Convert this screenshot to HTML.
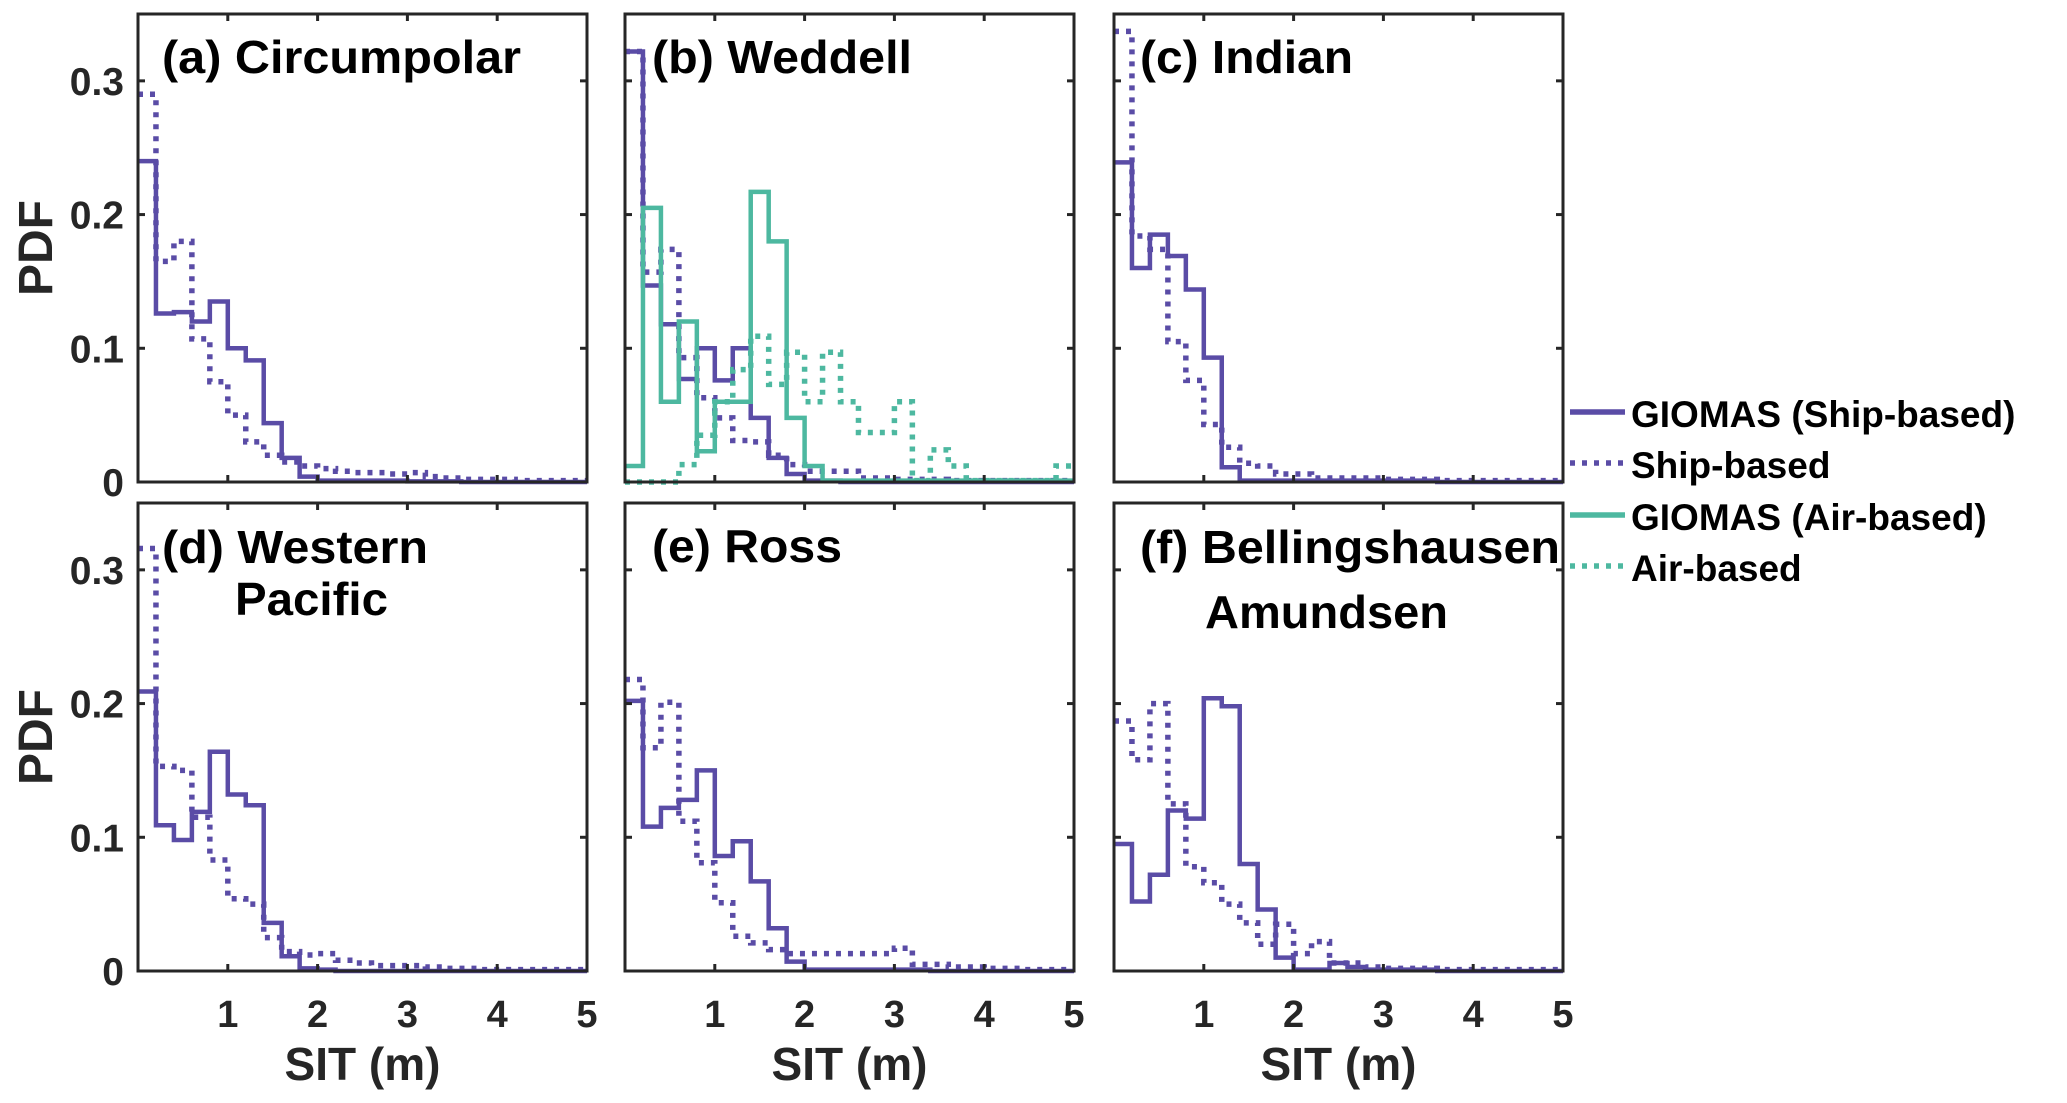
<!DOCTYPE html>
<html><head><meta charset="utf-8"><style>
html,body{margin:0;padding:0;background:#fff;}
svg{display:block;font-family:"Liberation Sans",Arial,sans-serif;font-weight:bold;}
</style></head><body>
<svg id="chart" width="2067" height="1103" viewBox="0 0 2067 1103" xmlns="http://www.w3.org/2000/svg"></svg>
<script>
const binEdges = [0,0.2,0.4,0.6,0.8,1.0,1.2,1.4,1.6,1.8,2.0,2.2,2.4,2.6,2.8,3.0,3.2,3.4,3.6,3.8,4.0,4.2,4.4,4.6,4.8,5.0];
const xTicks = [1,2,3,4,5];
const yTicks = [0,0.1,0.2,0.3];
const yTickLabels = ["0","0.1","0.2","0.3"];
const panelTitles = [["(a) Circumpolar"],["(b) Weddell"],["(c) Indian"],["(d) Western","Pacific"],["(e) Ross"],["(f) Bellingshausen","Amundsen"]];
const aShipModel = [0.24,0.126,0.127,0.12,0.135,0.10,0.091,0.044,0.018,0.004,0.001,0.001,0.001,0.001,0.001,0.0005,0.0005,0.0005,0,0,0,0,0,0,0];
const aShipObs = [0.29,0.165,0.18,0.107,0.075,0.05,0.03,0.02,0.015,0.012,0.01,0.008,0.007,0.007,0.006,0.007,0.004,0.003,0.002,0.002,0.002,0.001,0.001,0.001,0.001];
const bShipModel = [0.322,0.147,0.118,0.077,0.1,0.076,0.1,0.048,0.018,0.006,0.001,0.001,0,0,0,0,0,0,0,0,0,0,0,0,0];
const bShipObs = [0.322,0.157,0.174,0.093,0.063,0.048,0.031,0.03,0.02,0.013,0.008,0.008,0.008,0.003,0.003,0.002,0.002,0.002,0.001,0.001,0.001,0.001,0.001,0.001,0.001];
const bAirModel = [0.012,0.205,0.06,0.12,0.023,0.06,0.06,0.217,0.18,0.048,0.012,0.001,0.001,0.001,0.001,0.001,0.001,0.001,0.001,0.001,0.001,0.001,0.001,0.001,0.001];
const bAirObs = [0,0,0,0.013,0.035,0.06,0.084,0.109,0.073,0.097,0.06,0.097,0.06,0.037,0.037,0.06,0.001,0.024,0.012,0.001,0.001,0.001,0.001,0.001,0.012];
const cShipModel = [0.239,0.16,0.185,0.169,0.144,0.093,0.011,0.001,0.001,0.001,0.001,0.001,0.001,0.001,0.001,0.001,0.001,0.001,0,0,0,0,0,0,0];
const cShipObs = [0.337,0.184,0.174,0.105,0.076,0.043,0.026,0.014,0.012,0.006,0.006,0.003,0.003,0.003,0.003,0.002,0.002,0.002,0.001,0.001,0.001,0.001,0.001,0.001,0.001];
const dShipModel = [0.209,0.109,0.098,0.119,0.164,0.132,0.124,0.036,0.011,0.002,0.001,0,0,0,0,0,0,0,0,0,0,0,0,0,0];
const dShipObs = [0.316,0.153,0.15,0.115,0.083,0.054,0.05,0.025,0.0145,0.012,0.013,0.008,0.006,0.004,0.004,0.004,0.003,0.002,0.002,0.001,0.001,0.001,0.001,0.001,0.001];
const eShipModel = [0.202,0.108,0.122,0.128,0.15,0.086,0.097,0.067,0.032,0.007,0.001,0.001,0.001,0.001,0.001,0.001,0.001,0,0,0,0,0,0,0,0];
const eShipObs = [0.218,0.167,0.201,0.112,0.081,0.051,0.026,0.021,0.016,0.013,0.013,0.013,0.013,0.013,0.013,0.017,0.005,0.005,0.003,0.003,0.002,0.002,0.001,0.001,0.001];
const fShipModel = [0.095,0.052,0.072,0.12,0.114,0.204,0.198,0.08,0.046,0.01,0.001,0.001,0.006,0.003,0.001,0.001,0.001,0.001,0,0,0,0,0,0,0];
const fShipObs = [0.187,0.158,0.2,0.125,0.078,0.066,0.05,0.036,0.02,0.035,0.013,0.022,0.006,0.006,0.003,0.002,0.002,0.002,0.001,0.001,0.001,0.001,0.001,0.001,0.001];

const PURPLE="#5a4ca6", TEAL="#4db8a0", AX="#262626";
const NS="http://www.w3.org/2000/svg";
const svg=document.getElementById('chart');
function mk(tag,attrs,parent){const e=document.createElementNS(NS,tag);for(const k in attrs)e.setAttribute(k,attrs[k]);(parent||svg).appendChild(e);return e;}

const colsX=[138,625,1114], rowsY=[14,503], PW=449, PH=468, YMAX=0.35, XMAX=5;
const panels=[
 {id:'a',series:[[aShipModel,PURPLE,false],[aShipObs,PURPLE,true]]},
 {id:'b',series:[[bShipModel,PURPLE,false],[bShipObs,PURPLE,true],[bAirModel,TEAL,false],[bAirObs,TEAL,true]]},
 {id:'c',series:[[cShipModel,PURPLE,false],[cShipObs,PURPLE,true]]},
 {id:'d',series:[[dShipModel,PURPLE,false],[dShipObs,PURPLE,true]]},
 {id:'e',series:[[eShipModel,PURPLE,false],[eShipObs,PURPLE,true]]},
 {id:'f',series:[[fShipModel,PURPLE,false],[fShipObs,PURPLE,true]]}
];
const titlePos=[[162,73,359],[652,73,260],[1140,73,213],[162,563,266,235,615,153],[652,562,190],[1140,563,420,1205,628,243]];

panels.forEach((p,i)=>{
  const col=i%3,row=Math.floor(i/3);
  const L=colsX[col],T=rowsY[row],B=T+PH,R=L+PW;
  const xs=v=>L+v/XMAX*PW, ys=v=>B-v/YMAX*PH;
  const g=mk('g',{});
  
  
  const names=['ship-model-series','ship-obs-series','air-model-series','air-obs-series'];
  p.series.forEach((s,si)=>{
    const vals=s[0];let d='M'+xs(binEdges[0])+' '+ys(vals[0]);
    for(let k=0;k<vals.length;k++){ if(k>0)d+=' V'+ys(vals[k]); d+=' H'+xs(binEdges[k+1]); }
    const path=mk('path',{d:d,fill:'none',stroke:s[1],'stroke-width':s[2]?5.5:4.5,'stroke-dasharray':s[2]?'5 7':'none','stroke-linejoin':'miter'},g);
    
    
  });
  xTicks.forEach(t=>{const x=xs(t);
    mk('line',{x1:x,x2:x,y1:B,y2:B-7,stroke:AX,'stroke-width':3},g);
    mk('line',{x1:x,x2:x,y1:T,y2:T+7,stroke:AX,'stroke-width':3},g);
    if(row===1){const tl=mk('text',{x:x,y:1027,'text-anchor':'middle','font-size':38,fill:AX},g);tl.textContent=String(t);
      }
  });
  yTicks.forEach((t,ti)=>{const y=ys(t);
    mk('line',{x1:L,x2:L+7,y1:y,y2:y,stroke:AX,'stroke-width':3},g);
    mk('line',{x1:R,x2:R-7,y1:y,y2:y,stroke:AX,'stroke-width':3},g);
    if(col===0){const tl=mk('text',{x:124,y:y+14,'text-anchor':'end','font-size':39,fill:AX},g);tl.textContent=yTickLabels[ti];
      }
  });
  const fr=mk('rect',{x:L,y:T,width:PW,height:PH,fill:'none',stroke:AX,'stroke-width':3},g);
  
  const tp=titlePos[i];
  const t1=mk('text',{x:tp[0],y:tp[1],'font-size':46,fill:'#000',textLength:tp[2],lengthAdjust:'spacingAndGlyphs'},g);t1.textContent=panelTitles[i][0];
  
  if(panelTitles[i][1]){const t2=mk('text',{x:tp[3],y:tp[4],'font-size':46,fill:'#000',textLength:tp[5],lengthAdjust:'spacingAndGlyphs'},g);t2.textContent=panelTitles[i][1];
    }
  if(row===1){const xl=mk('text',{x:(L+R)/2,y:1080,'text-anchor':'middle','font-size':46,fill:AX},g);xl.textContent='SIT (m)';
    }
  if(col===0){const cy=(T+B)/2;const yl=mk('text',{x:52,y:cy,'text-anchor':'middle','font-size':48,fill:AX,transform:'rotate(-90 52 '+cy+')'},g);yl.textContent='PDF';
    }
});

const legendLabels=['GIOMAS (Ship-based)','Ship-based','GIOMAS (Air-based)','Air-based'];
const legendColors=[PURPLE,PURPLE,TEAL,TEAL];
const legendDotted=[false,true,false,true];
const lg=mk('g',{});


[412,463,515,566].forEach((y,i)=>{
  const e=mk('g',{},lg);
  
  
  mk('line',{x1:1570,x2:1625,y1:y,y2:y,stroke:legendColors[i],'stroke-width':5.5,'stroke-dasharray':legendDotted[i]?'5 7':'none'},e);
  const t=mk('text',{x:1631,y:y+15,'font-size':37,fill:'#000'},e);t.textContent=legendLabels[i];
});
</script>
</body></html>
